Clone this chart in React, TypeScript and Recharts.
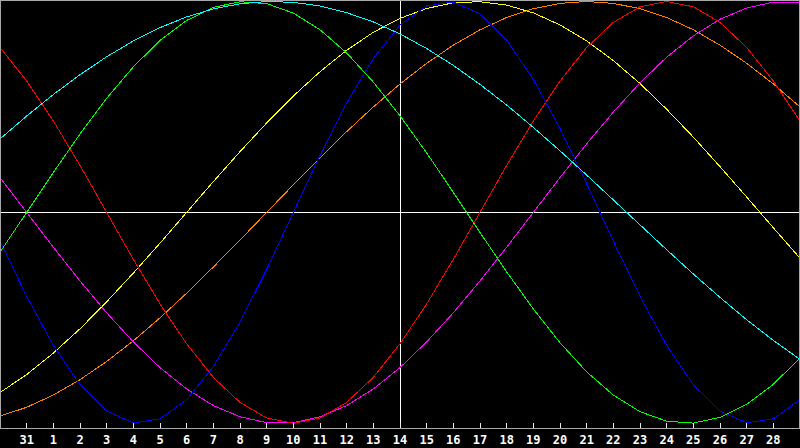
import React from 'react';
import { LineChart, Line, XAxis, YAxis, ReferenceLine } from 'recharts';

// Day labels for each plotted position (index 0..30)
const dayLabels = ['30', '31', '1', '2', '3', '4', '5', '6', '7', '8', '9', '10', '11', '12', '13', '14', '15', '16', '17', '18', '19', '20', '21', '22', '23', '24', '25', '26', '27', '28', '29'];
const tickPositions = [1, 2, 3, 4, 5, 6, 7, 8, 9, 10, 11, 12, 13, 14, 15, 16, 17, 18, 19, 20, 21, 22, 23, 24, 25, 26, 27, 28, 29];

// Series values (-1 .. 1), one per plotted day
const physical = [-0.136, -0.398, -0.631, -0.817, -0.942, -0.998, -0.979, -0.888, -0.731, -0.520, -0.270, 0, 0.270, 0.520, 0.731, 0.888, 0.979, 0.998, 0.942, 0.817, 0.631, 0.398, 0.136, -0.136, -0.398, -0.631, -0.817, -0.942, -0.998, -0.979, -0.888];
const emotional = [0.782, 0.623, 0.434, 0.223, 0, -0.223, -0.434, -0.623, -0.782, -0.901, -0.975, -1, -0.975, -0.901, -0.782, -0.623, -0.434, -0.223, 0, 0.223, 0.434, 0.623, 0.782, 0.901, 0.975, 1, 0.975, 0.901, 0.782, 0.623, 0.434];
const intellectual = [-0.189, 0, 0.189, 0.372, 0.541, 0.690, 0.815, 0.910, 0.972, 0.999, 0.990, 0.945, 0.866, 0.756, 0.618, 0.458, 0.282, 0.095, -0.095, -0.282, -0.458, -0.618, -0.756, -0.866, -0.945, -0.990, -0.999, -0.972, -0.910, -0.815, -0.690];
const intuitive = [0.165, 0, -0.165, -0.325, -0.476, -0.614, -0.736, -0.837, -0.916, -0.969, -0.997, -0.997, -0.969, -0.916, -0.837, -0.736, -0.614, -0.476, -0.325, -0.165, 0, 0.165, 0.325, 0.476, 0.614, 0.736, 0.837, 0.916, 0.969, 0.997, 0.997];
const aesthetic = [-0.854, -0.769, -0.667, -0.552, -0.424, -0.288, -0.146, 0, 0.146, 0.288, 0.424, 0.552, 0.667, 0.769, 0.854, 0.920, 0.967, 0.994, 0.999, 0.983, 0.946, 0.889, 0.813, 0.720, 0.611, 0.489, 0.357, 0.217, 0.073, -0.073, -0.217];
const awareness = [-0.966, -0.924, -0.866, -0.793, -0.707, -0.609, -0.5, -0.383, -0.259, -0.131, 0, 0.131, 0.259, 0.383, 0.5, 0.609, 0.707, 0.793, 0.866, 0.924, 0.966, 0.991, 1, 0.991, 0.966, 0.924, 0.866, 0.793, 0.707, 0.609, 0.5];
const spiritual = [0.348, 0.457, 0.559, 0.653, 0.738, 0.813, 0.876, 0.927, 0.965, 0.989, 1.0, 0.996, 0.979, 0.947, 0.903, 0.846, 0.777, 0.697, 0.607, 0.509, 0.403, 0.292, 0.177, 0.059, -0.059, -0.177, -0.292, -0.403, -0.509, -0.607, -0.697];

const todayIndex = 15;

const data = dayLabels.map((label, i) => ({
  i,
  label,
  physical: physical[i],
  emotional: emotional[i],
  intellectual: intellectual[i],
  intuitive: intuitive[i],
  aesthetic: aesthetic[i],
  awareness: awareness[i],
  spiritual: spiritual[i],
}));

const DayTick = (props: any) => {
  const { x, y, payload } = props;
  return (
    <g>
      <line x1={x} x2={x} y1={y - 5} y2={y} stroke="#e8e8e8" strokeWidth={1} />
      <text
        x={x}
        y={y + 15.5}
        textAnchor="middle"
        fill="#ffffff"
        fontFamily="'DejaVu Sans Mono', monospace"
        fontWeight="bold"
        fontSize={12}
      >
        {dayLabels[payload.value]}
      </text>
    </g>
  );
};

const lineProps = { type: 'linear' as const, strokeWidth: 1, dot: false, activeDot: false, isAnimationActive: false };

export default function App() {
  return (
    <div style={{ position: 'fixed', left: 0, top: 0, width: 800, height: 448, background: '#000' }}>
      <style>{`.recharts-surface { shape-rendering: crispEdges; } body { margin: 0; background: #000; }`}</style>
      <LineChart width={800} height={448} data={data} margin={{ top: 0, right: 0, bottom: 0, left: 0 }}>
        <XAxis
          dataKey="i"
          type="number"
          domain={[0, 30]}
          ticks={tickPositions}
          interval={0}
          height={20}
          axisLine={false}
          tickLine={false}
          tickSize={0}
          tickMargin={0}
          tick={<DayTick />}
        />
        <YAxis hide domain={[-1.0223, 1.0071]} allowDataOverflow />
        <ReferenceLine x={todayIndex} stroke="#ffffff" strokeWidth={1} />
        <ReferenceLine y={0} stroke="#ffffff" strokeWidth={1} />
        <Line {...lineProps} dataKey="awareness" stroke="#ff8000" />
        <Line {...lineProps} dataKey="aesthetic" stroke="#ffff00" />
        <Line {...lineProps} dataKey="intuitive" stroke="#ff00ff" />
        <Line {...lineProps} dataKey="emotional" stroke="#ff0000" />
        <Line {...lineProps} dataKey="physical" stroke="#0000ff" />
        <Line {...lineProps} dataKey="intellectual" stroke="#00ff00" />
        <Line {...lineProps} dataKey="spiritual" stroke="#00ffff" />
      </LineChart>
      <div
        style={{
          position: 'absolute',
          left: 0,
          top: 0,
          width: 800,
          height: 429,
          boxSizing: 'border-box',
          borderTop: '1px solid #a8a8a8',
          borderLeft: '1px solid #a8a8a8',
          borderRight: '1px solid #a8a8a8',
          borderBottom: '1px solid #a8a8a8',
          pointerEvents: 'none',
        }}
      />
    </div>
  );
}
